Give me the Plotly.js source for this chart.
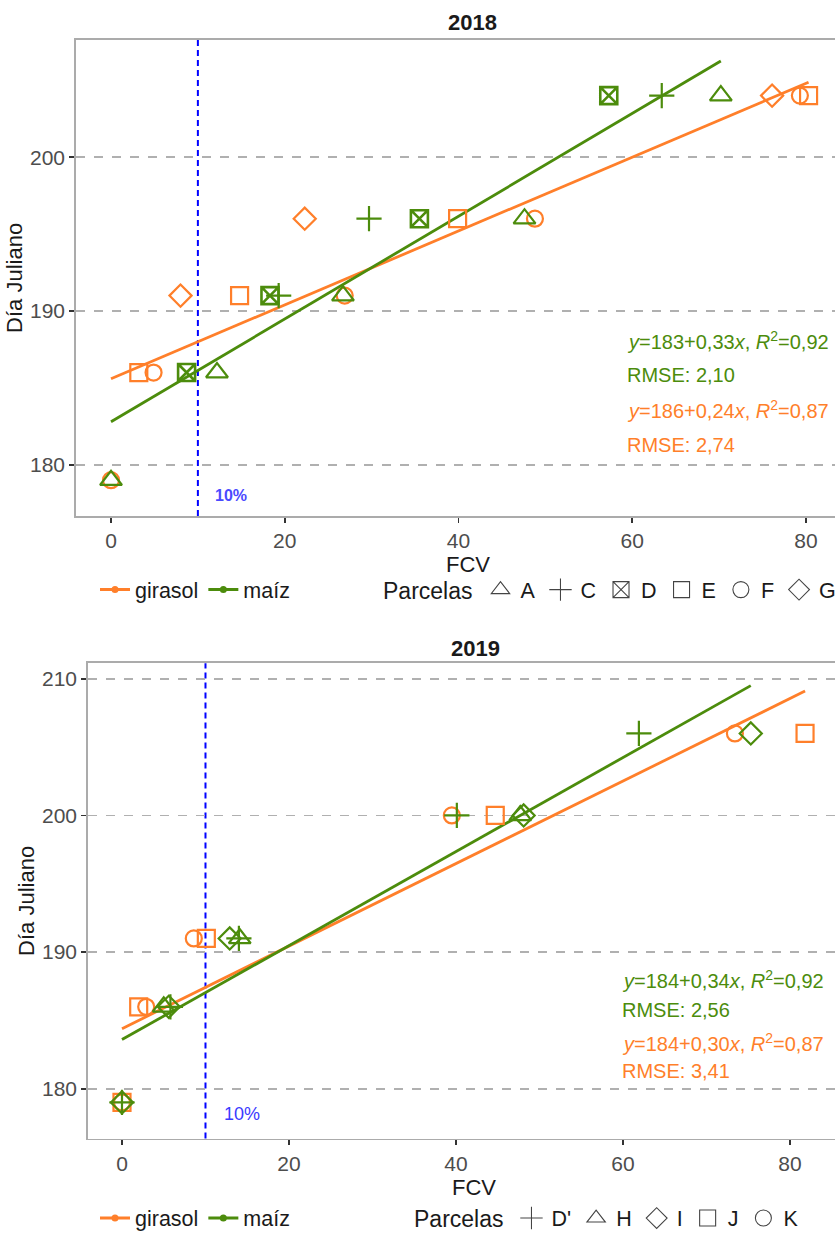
<!DOCTYPE html>
<html><head><meta charset="utf-8">
<script src="https://cdn.plot.ly/plotly-3.0.1.min.js"></script>
<style>html,body{margin:0;padding:0;overflow:hidden;background:#fff}</style>
</head><body><div id="chart" style="width:860px;height:1239px"></div>
<script>
// ---------- DATA 2018 ----------
const fcv2018_A = [0, 12.2, 26.7, 47.6, 70.2];
const dia2018_A = [179, 186, 191, 196, 204];
const fcv2018_C = [19.3, 29.7, 63.4];
const dia2018_C = [191, 196, 204];
const fcv2018_D = [8.7, 18.3, 35.5, 57.3];
const dia2018_D = [186, 191, 196, 204];
const fcv2018_E = [3.2, 14.8, 39.9, 80.3];
const dia2018_E = [186, 191, 196, 204];
const fcv2018_F = [0, 4.9, 26.9, 48.8, 79.3];
const dia2018_F = [179, 186, 191, 196, 204];
const fcv2018_G = [8.0, 22.3, 76.1];
const dia2018_G = [191, 196, 204];
// ---------- DATA 2019 ----------
const fcv2019_Dp = [0, 5.8, 14.0, 40.1, 61.9];
const dia2019_Dp = [179, 186, 191, 200, 206];
const fcv2019_H = [5.0, 14.1, 47.7];
const dia2019_H = [186, 191, 200];
const fcv2019_I = [0, 5.6, 12.9, 48.1, 75.3];
const dia2019_I = [179, 186, 191, 200, 206];
const fcv2019_J = [0, 2.0, 10.1, 44.7, 81.8];
const dia2019_J = [179, 186, 191, 200, 206];
const fcv2019_K = [0, 2.9, 8.6, 39.5, 73.4];
const dia2019_K = [179, 186, 191, 200, 206];
// regression fits [intercept, slope]
const fit2018_maiz = [182.8, 0.334];
const fit2018_girasol = [185.6, 0.240];
const fit2019_maiz = [183.6, 0.344];
const fit2019_girasol = [184.4, 0.302];
const umbralFCV = 10;
const eq2018 = ['<i>y</i>=183+0,33<i>x</i>, <i>R</i><sup>2</sup>=0,92', 'RMSE: 2,10', '<i>y</i>=186+0,24<i>x</i>, <i>R</i><sup>2</sup>=0,87', 'RMSE: 2,74'];
const eq2019 = ['<i>y</i>=184+0,34<i>x</i>, <i>R</i><sup>2</sup>=0,92', 'RMSE: 2,56', '<i>y</i>=184+0,30<i>x</i>, <i>R</i><sup>2</sup>=0,87', 'RMSE: 3,41'];
const parcelas2018 = ['A', 'C', 'D', 'E', 'F', 'G'];
const parcelas2019 = ["D'", 'H', 'I', 'J', 'K'];
const cultivos = ['girasol', 'maíz'];

// ---------- STYLE ----------
const W = 860, H = 1239;
const FONT = 'Liberation Sans, Arial, sans-serif';
const COL = {'girasol': '#ff7f2a', 'maíz': '#4c8c0c'};
const SYM = {
  'A': ['triangle-up-open', 19], 'C': ['cross-thin-open', 18], 'D': ['square-x-open', 17],
  'E': ['square-open', 17], 'F': ['circle-open', 16], 'G': ['diamond-open', 17],
  "D'": ['cross-thin-open', 18], 'H': ['triangle-up-open', 19], 'I': ['diamond-open', 17],
  'J': ['square-open', 17], 'K': ['circle-open', 16]
};

const traces = [];
function pts(x, y, parcela, cultivo, xa, ya) {
  const s = SYM[parcela];
  traces.push({type: 'scatter', mode: 'markers', x: x, y: y, xaxis: xa, yaxis: ya,
    showlegend: false, hoverinfo: 'skip',
    marker: {symbol: s[0], size: s[1], color: COL[cultivo], line: {width: parcela === 'D' ? 2.6 : 2.2, color: COL[cultivo]}}});
}
function fitLine(fit, xs, cultivo, xa, ya) {
  const all = [].concat(...xs);
  const x0 = Math.min(...all), x1 = Math.max(...all);
  traces.push({type: 'scatter', mode: 'lines', x: [x0, x1], y: [fit[0] + fit[1] * x0, fit[0] + fit[1] * x1],
    xaxis: xa, yaxis: ya, showlegend: false, hoverinfo: 'skip',
    line: {color: COL[cultivo], width: 2.8}});
}
// 2018
fitLine(fit2018_girasol, [fcv2018_E, fcv2018_F, fcv2018_G], 'girasol', 'x', 'y');
fitLine(fit2018_maiz, [fcv2018_A, fcv2018_C, fcv2018_D], 'maíz', 'x', 'y');
pts(fcv2018_F, dia2018_F, 'F', 'girasol', 'x', 'y');
pts(fcv2018_E, dia2018_E, 'E', 'girasol', 'x', 'y');
pts(fcv2018_G, dia2018_G, 'G', 'girasol', 'x', 'y');
pts(fcv2018_A, dia2018_A, 'A', 'maíz', 'x', 'y');
pts(fcv2018_C, dia2018_C, 'C', 'maíz', 'x', 'y');
pts(fcv2018_D, dia2018_D, 'D', 'maíz', 'x', 'y');
// 2019
fitLine(fit2019_girasol, [fcv2019_J, fcv2019_K], 'girasol', 'x2', 'y2');
fitLine(fit2019_maiz, [fcv2019_Dp, fcv2019_H, fcv2019_I], 'maíz', 'x2', 'y2');
pts(fcv2019_K, dia2019_K, 'K', 'girasol', 'x2', 'y2');
pts(fcv2019_J, dia2019_J, 'J', 'girasol', 'x2', 'y2');
pts(fcv2019_H, dia2019_H, 'H', 'maíz', 'x2', 'y2');
pts(fcv2019_I, dia2019_I, 'I', 'maíz', 'x2', 'y2');
pts(fcv2019_Dp, dia2019_Dp, "D'", 'maíz', 'x2', 'y2');

// legend-only traces
function legCrop(legend, xa, ya) {
  cultivos.forEach(c => traces.push({type: 'scatter', mode: 'lines+markers', x: [null], y: [null], xaxis: xa, yaxis: ya,
    name: c, legend: legend, line: {color: COL[c], width: 3}, marker: {color: COL[c], size: 7, symbol: 'circle'}}));
}
function legParc(list, legend, xa, ya) {
  list.forEach(p => traces.push({type: 'scatter', mode: 'markers', x: [null], y: [null], xaxis: xa, yaxis: ya,
    name: p, legend: legend,
    marker: {symbol: SYM[p][0], size: 16, color: '#444444', line: {width: 1.1, color: '#444444'}}}));
}
legCrop('legend', 'x', 'y');
legParc(parcelas2018, 'legend2', 'x', 'y');
legCrop('legend3', 'x2', 'y2');
legParc(parcelas2019, 'legend4', 'x2', 'y2');

const px = v => v / W, py = v => 1 - v / H;

function xax(domL, range) {
  return {domain: [px(domL), 1], range: range, showline: true, linecolor: '#ababab', linewidth: 1.8, mirror: true,
    ticks: 'outside', ticklen: 5, tickwidth: 1.5, tickcolor: '#333333', tick0: 0, dtick: 20,
    showgrid: false, zeroline: false, tickfont: {size: 21, color: '#4d4d4d'},
    title: {text: 'FCV', font: {size: 22, color: '#1a1a1a'}, standoff: 4}};
}
function yax(top, bot, range, anchor) {
  return {domain: [py(bot), py(top)], range: range, anchor: anchor, showline: true, linecolor: '#ababab', linewidth: 1.8,
    ticks: 'outside', ticklen: 5, tickwidth: 1.5, tickcolor: '#333333', dtick: 10,
    showgrid: true, gridcolor: '#b0b0b0', gridwidth: 1.5, griddash: 'dash', zeroline: false,
    tickfont: {size: 21, color: '#4d4d4d'},
    title: {text: 'Día Juliano', font: {size: 22, color: '#1a1a1a'}, standoff: 1}};
}

function eqAnn(lines, xref, yref, xv, yvals) {
  return lines.map((t, i) => ({xref: xref, yref: yref, x: xv, y: yvals[i], text: t, showarrow: false,
    xanchor: 'left', yanchor: 'middle', font: {size: 20, color: i < 2 ? COL['maíz'] : COL['girasol']}}));
}

const legBase = {orientation: 'h', xanchor: 'left', yanchor: 'middle', bgcolor: 'rgba(0,0,0,0)',
  font: {size: 21.5, color: '#1a1a1a'}, traceorder: 'normal', itemclick: false};
const legTitle = {text: 'Parcelas', side: 'left', font: {size: 23, color: '#1a1a1a'}};

const layout = {
  width: W, height: H, margin: {l: 0, r: 0, t: 0, b: 0}, paper_bgcolor: '#fff', plot_bgcolor: '#fff',
  font: {family: FONT, color: '#1a1a1a'},
  xaxis: xax(76, [-4.03, 86.22]),
  yaxis: yax(40, 519, [176.67, 207.63], 'x'),
  xaxis2: Object.assign(xax(88, [-4.07, 88.38]), {anchor: 'y2'}),
  yaxis2: Object.assign(yax(667, 1145, [176.36, 211.14], 'x2'), {dtick: 10}),
  legend: Object.assign({}, legBase, {x: px(95), y: py(593)}),
  legend2: Object.assign({}, legBase, {x: px(381), y: py(593), title: legTitle}),
  legend3: Object.assign({}, legBase, {x: px(95), y: py(1225)}),
  legend4: Object.assign({}, legBase, {x: px(412), y: py(1225), title: legTitle}),
  shapes: [
    {type: 'line', xref: 'x', yref: 'y domain', x0: umbralFCV, x1: umbralFCV, y0: 0, y1: 1, layer: 'below',
      line: {color: '#0000ff', width: 2, dash: '6px,4px'}},
    {type: 'line', xref: 'x2', yref: 'y2 domain', x0: umbralFCV, x1: umbralFCV, y0: 0, y1: 1, layer: 'below',
      line: {color: '#0000ff', width: 2, dash: '6px,4px'}}
  ],
  annotations: [
    {xref: 'paper', yref: 'paper', x: px(472), y: py(23), yanchor: 'middle', text: '<b>2018</b>', showarrow: false, font: {size: 22, color: '#1a1a1a'}},
    {xref: 'paper', yref: 'paper', x: px(475), y: py(652), yanchor: 'middle', text: '<b>2019</b>', showarrow: false, font: {size: 22, color: '#1a1a1a'}},
    {xref: 'x', yref: 'y', x: 11.7, y: 178.03, text: '<b>10%</b>', showarrow: false, xanchor: 'left', font: {size: 16, color: '#4a4aff'}},
    {xref: 'x2', yref: 'y2', x: 12.0, y: 178.18, text: '10%', showarrow: false, xanchor: 'left', font: {size: 18, color: '#3a3aff'}}
  ].concat(eqAnn(eq2018, 'x', 'y', 59.2, [188.11, 185.85, 183.59, 181.26]))
   .concat(eqAnn(eq2019, 'x2', 'y2', 59.6, [188.0, 185.75, 183.42, 181.31]))
};

Plotly.newPlot('chart', traces, layout, {staticPlot: true, displayModeBar: false});
</script></body></html>
